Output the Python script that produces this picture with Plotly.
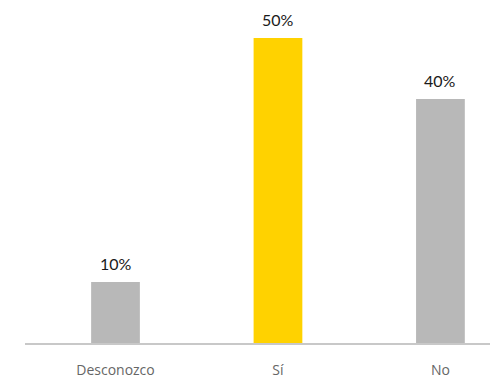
import plotly.graph_objects as go

categories = ["Desconozco", "Sí", "No"]
shares = [0.10, 0.50, 0.40]
bar_colors = ["#B8B8B8", "#FFD200", "#B8B8B8"]
value_labels = ["10%", "50%", "40%"]

fig = go.Figure()
fig.add_trace(go.Bar(
    x=categories,
    y=shares,
    width=0.3,
    marker=dict(color=bar_colors, line=dict(width=0)),
    hoverinfo="skip",
))

for cat, val, lab in zip(categories, shares, value_labels):
    fig.add_annotation(
        x=cat, y=val, text=lab, showarrow=False,
        yanchor="bottom", yshift=7,
        font=dict(family="Lato", size=16, color="#1a1a1a"),
    )

fig.update_layout(
    width=490, height=379,
    margin=dict(l=25, r=0, t=0, b=36),
    paper_bgcolor="white", plot_bgcolor="white",
    showlegend=False,
    xaxis=dict(
        type="category",
        range=[-0.557, 2.305],
        showline=True, linecolor="#C8C8C8", linewidth=1.5,
        showgrid=False, zeroline=False,
        ticks="outside", ticklen=13, tickcolor="rgba(0,0,0,0)",
        tickfont=dict(family="Open Sans", size=14, color="#666666"),
    ),
    yaxis=dict(
        range=[0, 0.5623],
        visible=False,
    ),
)

fig.write_html("out.html")
